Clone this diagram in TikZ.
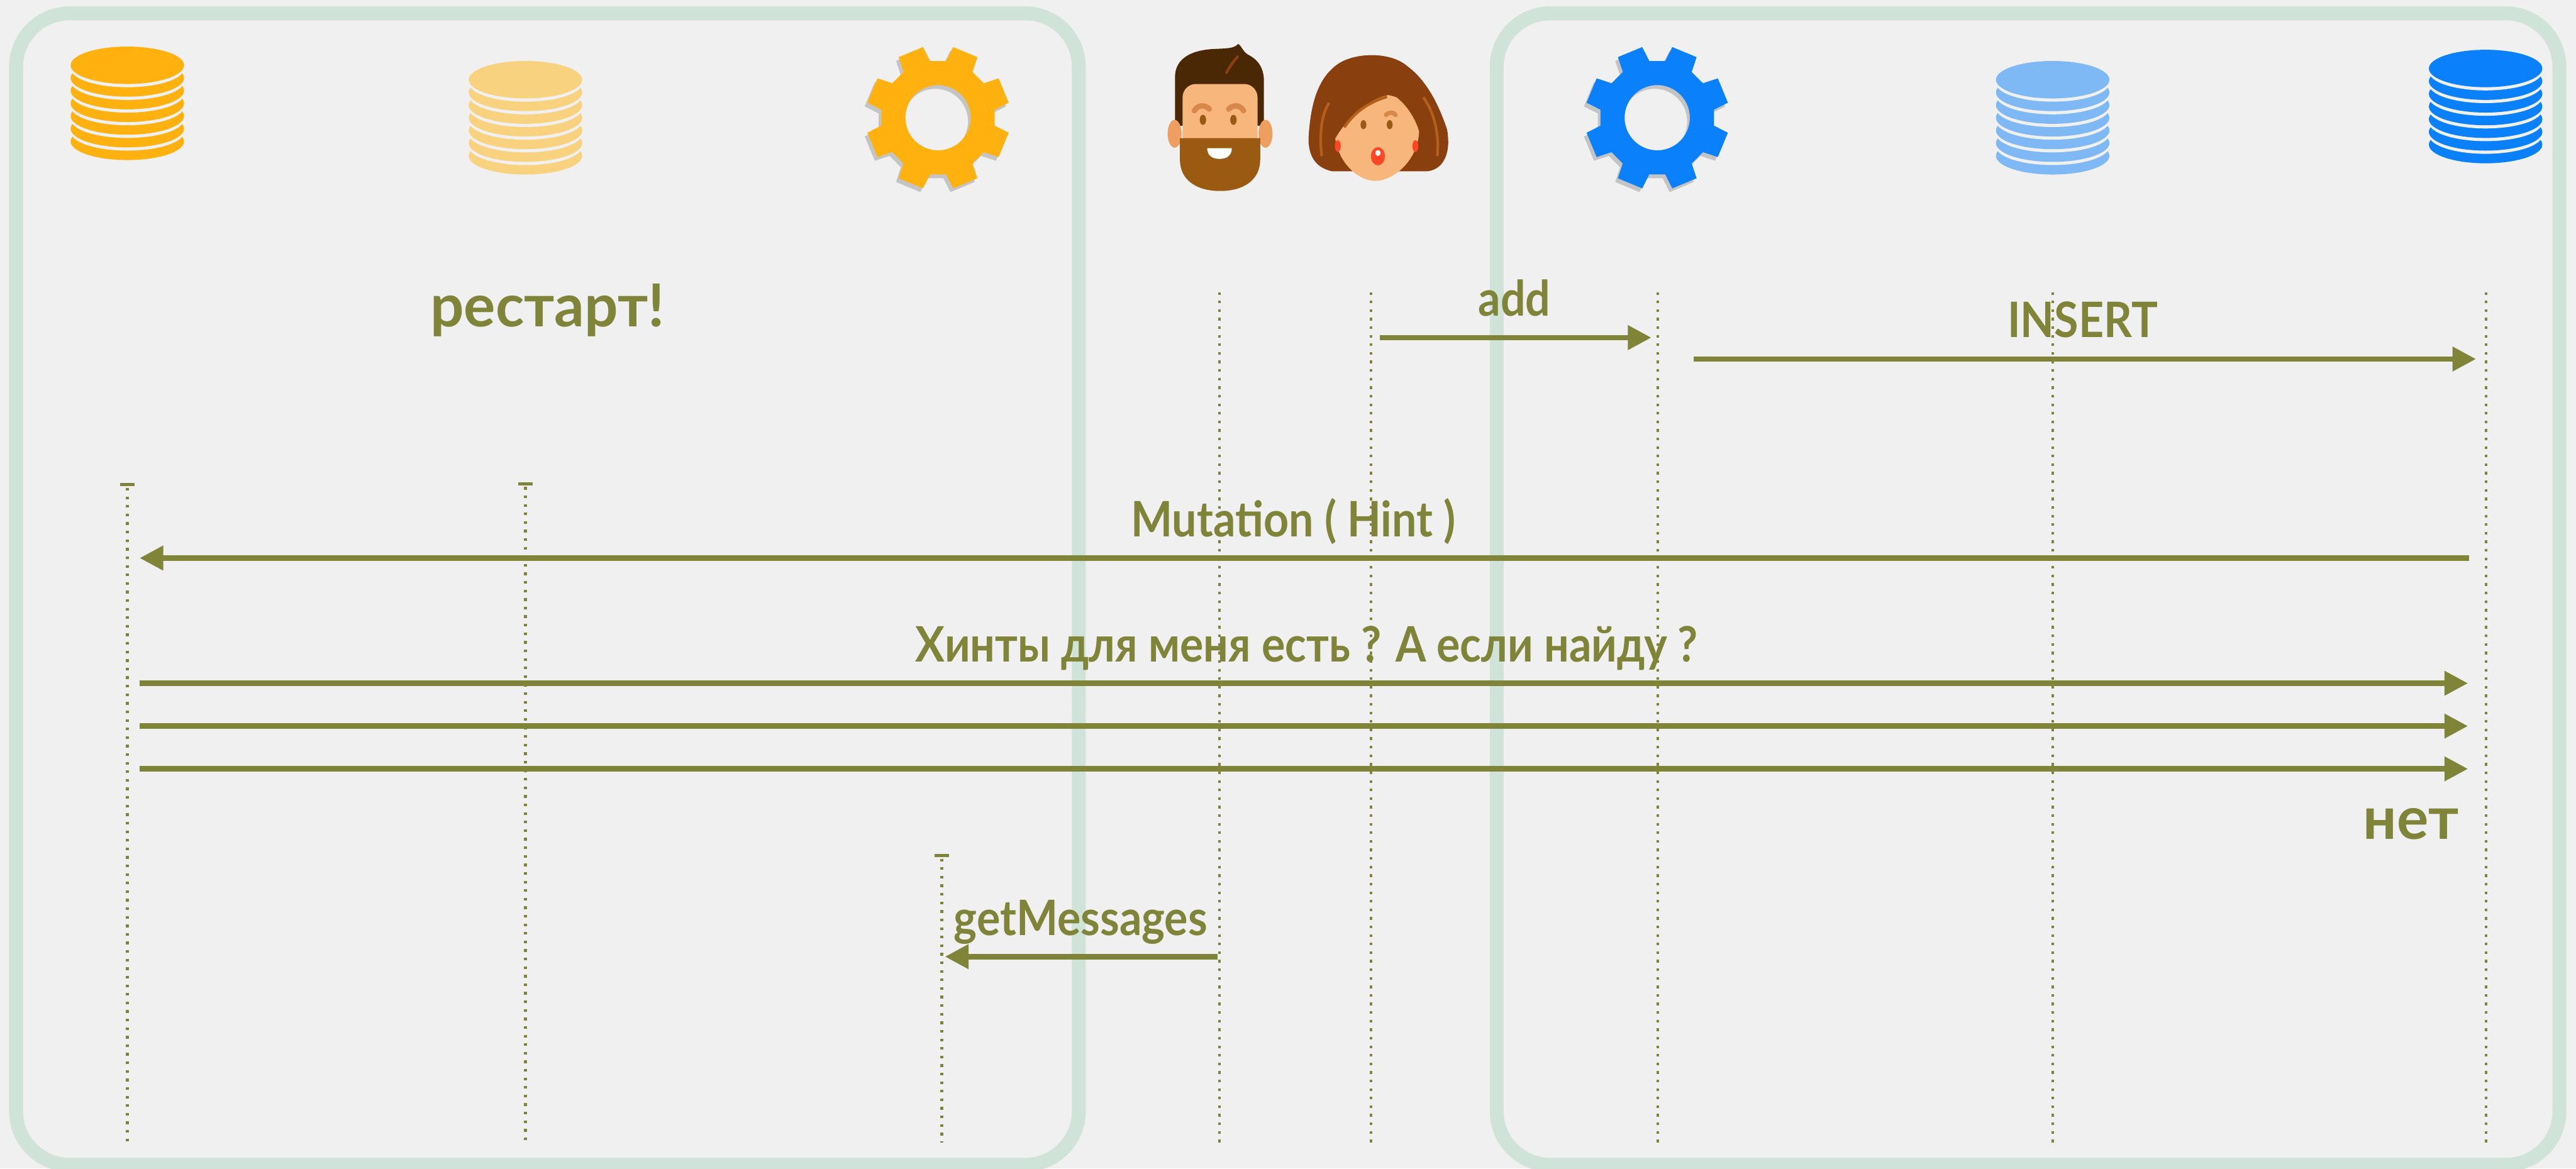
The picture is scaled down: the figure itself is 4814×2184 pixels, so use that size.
\documentclass[tikz,border=0pt]{standalone}
\usepackage{fontspec}
\setmainfont{Lato}
\newfontfamily\labelfont{Lato}[FakeStretch=0.9]
\usetikzlibrary{arrows.meta}

\definecolor{canvasbg}{HTML}{F0F0F0}
\definecolor{laneframe}{HTML}{CFE3D8}
\definecolor{olivetext}{HTML}{7F8439}
\definecolor{gold}{HTML}{FFB20F}
\definecolor{paleGold}{HTML}{F8D27E}
\definecolor{azure}{HTML}{0A80FA}
\definecolor{paleAzure}{HTML}{7EB8F5}
\definecolor{skin}{HTML}{F7B67C}
\definecolor{skinShade}{HTML}{EE9E5E}
\definecolor{brow}{HTML}{D9874A}
\definecolor{darkHair}{HTML}{4B2805}
\definecolor{beard}{HTML}{9B5A12}
\definecolor{auburn}{HTML}{8A3F0E}
\definecolor{strand}{HTML}{B5601A}
\definecolor{lipRed}{HTML}{FF4726}

\tikzset{
  lane/.style={draw=laneframe, line width=2.6mm, rounded corners=10mm},
  lifeline/.style={olivetext, line width=0.5mm, dash pattern=on 0.5mm off 1.1mm},
  startmark/.style={olivetext, line width=0.6mm},
  msg/.style={olivetext, line width=1mm, -{Triangle[length=4.4mm,width=4.4mm]}},
  lbl/.style={midway, anchor=base, yshift=4mm, text=olivetext, font=\fontsize{26}{30}\labelfont\bfseries},
  bigword/.style={text=olivetext, font=\fontsize{31.5}{38}\selectfont\bfseries},
  % stack of discs, drawn from the bottom up
  pics/dbstack/.style={code={
    \foreach \k in {6,5,...,0}{
      \fill[canvasbg] (0,{23.7*\k+6}) ellipse [x radius=10.6mm, y radius=3.5mm];
      \fill[#1] (0,{23.7*\k}) ellipse [x radius=10.6mm, y radius=3.5mm];
    }
  }},
  % eight tooth cog with a hole
  pics/cog/.style={code={
    \fill[black, opacity=.18, even odd rule, shift={(-5,7)}] (8:107)
      \foreach \a in {22.5,67.5,...,337.5}{ -- (\a-14.5:107) -- (\a-10.5:135) -- (\a+10.5:135) -- (\a+14.5:107)}
      -- cycle (0,0) circle (6.1mm);
    \fill[#1, even odd rule] (8:107)
      \foreach \a in {22.5,67.5,...,337.5}{ -- (\a-14.5:107) -- (\a-10.5:135) -- (\a+10.5:135) -- (\a+14.5:107)}
      -- cycle (0,0) circle (6.1mm);
  }},
}

\begin{document}
\begin{tikzpicture}[x=0.1mm, y=-0.1mm]
    \useasboundingbox (0,0) rectangle (4814,2184);
    \fill[canvasbg] (0,0) rectangle (4814,2184);

    % the two lanes
    \draw[lane] (30,25) rectangle (2016,2177);
    \draw[lane] (2797,25) rectangle (4783,2177);

    % icons
    \pic at (238,122) {dbstack=gold};
    \pic at (982,149) {dbstack=paleGold};
    \pic at (1753,220) {cog=gold};
    \pic at (3097,220) {cog=azure};
    \pic at (3836,149) {dbstack=paleAzure};
    \pic at (4645,128) {dbstack=azure};

    % bearded man
    \fill[darkHair] (2196,235) -- (2196,140) .. controls (2198,110) and (2225,95) .. (2262,92)
        .. controls (2290,90) and (2305,92) .. (2314,82) .. controls (2322,88) and (2322,96) .. (2332,102)
        .. controls (2352,112) and (2362,128) .. (2362,152) -- (2362,235) -- cycle;
    \draw[auburn, line width=0.5mm, line cap=round] (2313,106) .. controls (2302,118) and (2296,128) .. (2292,136);
    \fill[skinShade] (2195,250) ellipse [x radius=1.3mm, y radius=2.6mm];
    \fill[skinShade] (2365,250) ellipse [x radius=1.3mm, y radius=2.6mm];
    \fill[skin, rounded corners=2.5mm] (2210,157) rectangle (2350,300);
    \fill[beard] (2205,258) -- (2355,258) -- (2355,298) .. controls (2355,338) and (2322,357) .. (2280,357)
        .. controls (2238,357) and (2205,338) .. (2205,298) -- cycle;
    \fill[white] (2256,277) -- (2302,277) .. controls (2302,291) and (2292,297) .. (2279,297)
        .. controls (2266,297) and (2256,291) .. (2256,277) -- cycle;
    \draw[brow, line width=1mm, line cap=round] (2232,207) .. controls (2238,196) and (2252,195) .. (2260,204);
    \draw[brow, line width=1mm, line cap=round] (2296,204) .. controls (2304,195) and (2318,196) .. (2324,207);
    \fill[beard] (2248,224) ellipse [x radius=0.6mm, y radius=0.95mm];
    \fill[beard] (2305,224) ellipse [x radius=0.6mm, y radius=0.95mm];

    % woman
    \fill[auburn] (2489,320) .. controls (2452,312) and (2443,282) .. (2446,250)
        .. controls (2450,200) and (2460,148) .. (2500,120) .. controls (2532,98) and (2598,96) .. (2630,124)
        .. controls (2668,152) and (2690,200) .. (2704,242) .. controls (2712,282) and (2700,316) .. (2668,320) -- cycle;
    \fill[skin] (2574,176) .. controls (2617,176) and (2652,198) .. (2652,242)
        .. controls (2652,298) and (2605,338) .. (2570,338) .. controls (2535,338) and (2494,298) .. (2494,242)
        .. controls (2494,198) and (2530,176) .. (2574,176) -- cycle;
    \begin{scope}
      \clip (2489,320) .. controls (2452,312) and (2443,282) .. (2446,250)
        .. controls (2450,200) and (2460,148) .. (2500,120) .. controls (2532,98) and (2598,96) .. (2630,124)
        .. controls (2668,152) and (2690,200) .. (2704,242) .. controls (2712,282) and (2700,316) .. (2668,320) -- cycle;
      \fill[auburn] (2488,272) .. controls (2515,218) and (2560,182) .. (2602,176)
          .. controls (2626,192) and (2645,218) .. (2654,252) -- (2720,252) -- (2720,90) -- (2430,90) -- (2430,272) -- cycle;
    \end{scope}
    \draw[strand, line width=0.5mm] (2470,292) .. controls (2465,250) and (2470,212) .. (2484,192);
    \draw[strand, line width=0.5mm] (2686,292) .. controls (2690,250) and (2680,210) .. (2660,182);
    \draw[strand, line width=0.5mm] (2512,238) .. controls (2535,205) and (2562,190) .. (2592,181);
    \draw[brow, line width=0.8mm, line cap=round] (2590,215) .. controls (2596,209) and (2604,209) .. (2608,215);
    \fill[beard] (2548,233) ellipse [x radius=0.55mm, y radius=0.85mm];
    \fill[beard] (2597,233) ellipse [x radius=0.55mm, y radius=0.85mm];
    \fill[lipRed] (2575,292) ellipse [x radius=1.3mm, y radius=1.7mm];
    \fill[white] (2575,286) ellipse [x radius=0.5mm, y radius=0.55mm];
    \fill[lipRed] (2500,273) ellipse [x radius=0.55mm, y radius=1.1mm];
    \fill[lipRed] (2645,273) ellipse [x radius=0.55mm, y radius=1.1mm];

    % lifelines
    \coordinate (goldDB) at (238,906);
    \coordinate (paleGoldDB) at (982,904);
    \coordinate (goldCog) at (1760,1599);
    \coordinate (man) at (2279,540);
    \coordinate (woman) at (2562,540);
    \coordinate (blueCog) at (3098,540);
    \coordinate (paleBlueDB) at (3836,540);
    \coordinate (blueDB) at (4646,540);
    \foreach \c in {goldDB,paleGoldDB,goldCog,man,woman,blueCog,paleBlueDB,blueDB}
        \draw[lifeline] ([yshift=-0.6mm]\c) -- (\c |- 0,2135);
    \foreach \c in {goldDB,paleGoldDB,goldCog}
        \draw[startmark] ([xshift=-1.3mm]\c) -- ([xshift=1.3mm]\c);

    % messages
    \draw[msg, shorten <=1.7mm, shorten >=1.2mm] (woman |- 0,631) -- node[lbl] {add} (blueCog |- 0,631);
    \draw[msg, shorten <=6.7mm, shorten >=1.9mm] (blueCog |- 0,671) -- node[lbl, xshift=2mm] {INSERT} (blueDB |- 0,671);
    \node[bigword, anchor=base] (restart) at (1023,610) {рестарт!};
    \draw[msg, shorten <=3.2mm, shorten >=2.3mm] (blueDB |- 0,1043) -- node[lbl, xshift=-2.5mm] {Mutation ( Hint )} (goldDB |- 0,1043);
    \draw[msg, shorten <=2.3mm, shorten >=3.4mm] (goldDB |- 0,1277) -- node[lbl] {Хинты для меня есть ? А если найду ?} (blueDB |- 0,1277);
    \foreach \y in {1357,1437}
        \draw[msg, shorten <=2.3mm, shorten >=3.4mm] (goldDB |- 0,\y) -- (blueDB |- 0,\y);
    \node[bigword, anchor=base east] (net) at (4607,1568) {нет};
    \draw[msg, shorten <=0.4mm, shorten >=0.6mm] (man |- 0,1788) -- node[lbl] {getMessages} (goldCog |- 0,1788);
\end{tikzpicture}
\end{document}
